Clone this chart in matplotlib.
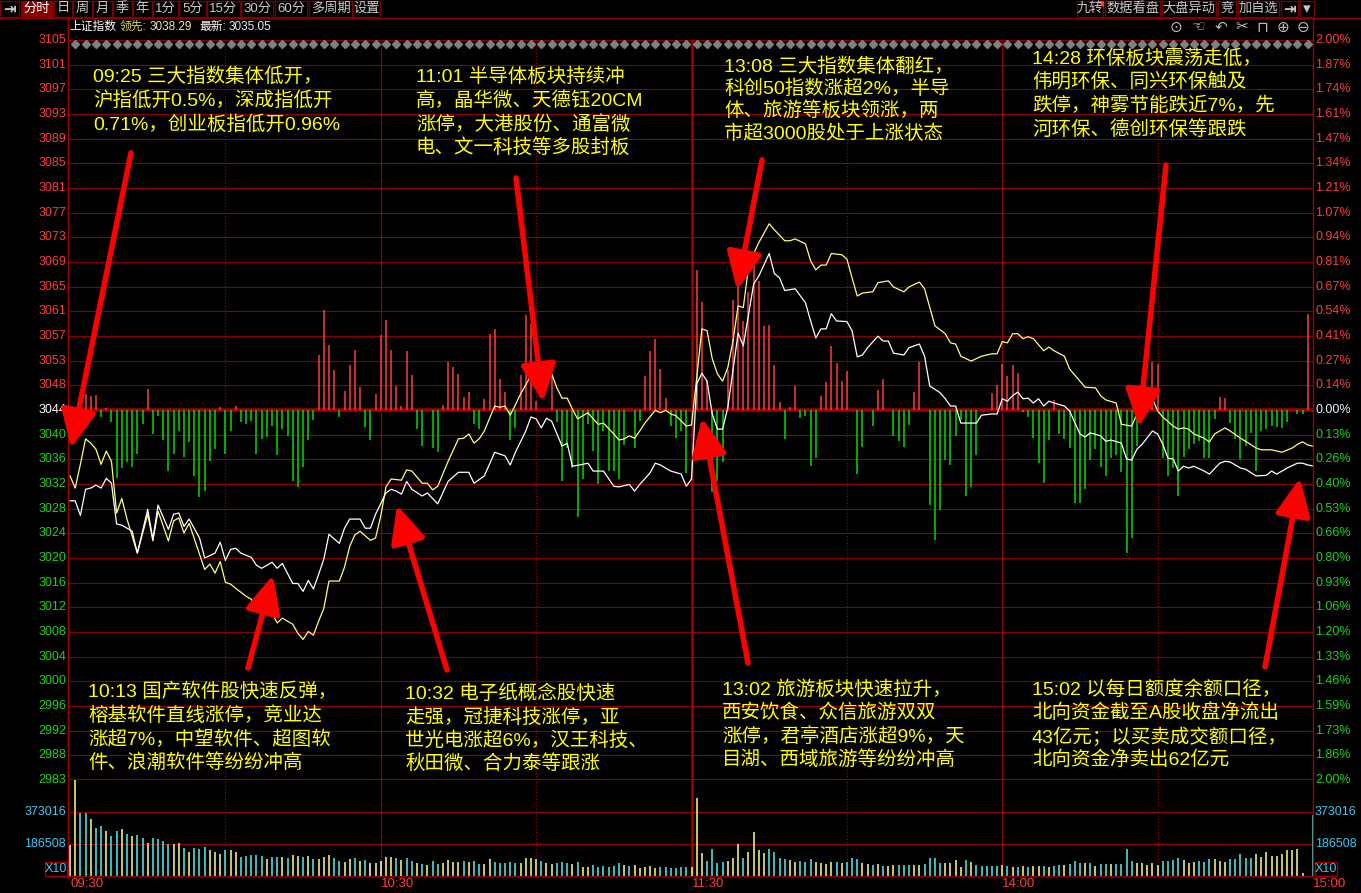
import numpy as np
import matplotlib
matplotlib.use("Agg")
import matplotlib.pyplot as plt
import matplotlib.transforms as mtransforms
from matplotlib.patches import FancyArrowPatch, Rectangle

plt.rcParams['font.family'] = ['Liberation Sans', 'Noto Sans CJK SC', 'DejaVu Sans']

W, H = 1361, 893

# ---- data (minute index 0..240: 09:30-11:30, 13:01-15:00) ----
PREV_CLOSE = 3044.25
LEAD_LAST = 3038.29
LAST = 3035.05

# 上证指数 (white)
white_pts = [
    (0, 3029.3), (1, 3029.3), (2, 3026.9), (3, 3031.2), (4, 3031.4), (5, 3031.9), (6, 3031.4), (7, 3033.0),
    (8, 3032.2), (9, 3025.5), (10, 3025.3), (12, 3024.3), (13, 3020.7), (15, 3027.9), (16, 3023.0), (17, 3028.6),
    (19, 3024.6), (20, 3027.1), (21, 3027.3), (22, 3025.1), (23, 3026.3), (25, 3023.2), (26, 3019.9), (28, 3020.7),
    (29, 3022.5), (30, 3019.5), (31, 3021.3), (32, 3021.5), (33, 3020.7), (35, 3020.0), (36, 3018.7), (37, 3018.2),
    (39, 3019.2), (40, 3018.2), (41, 3019.0), (43, 3015.7), (44, 3015.7), (45, 3014.4), (46, 3016.2), (47, 3014.8),
    (48, 3017.2), (49, 3019.7), (50, 3023.8), (52, 3022.3), (53, 3024.8), (54, 3026.3), (56, 3026.3), (57, 3024.8),
    (58, 3024.8), (59, 3027.1), (61, 3030.6), (62, 3031.2), (63, 3030.9), (64, 3030.4), (65, 3032.5), (66, 3031.2),
    (68, 3030.1), (69, 3030.6), (71, 3028.8), (73, 3032.5), (75, 3034.0), (77, 3034.0), (78, 3032.2), (80, 3033.4),
    (82, 3037.3), (84, 3036.7), (85, 3035.2), (86, 3037.3), (88, 3040.8), (89, 3043.1), (90, 3042.8), (91, 3041.3),
    (92, 3042.9), (93, 3042.4), (95, 3038.3), (96, 3038.8), (97, 3035.0), (99, 3035.3), (100, 3035.5), (101, 3034.2),
    (102, 3034.2), (103, 3034.2), (105, 3031.7), (106, 3031.6), (108, 3032.0), (109, 3030.9), (110, 3032.0),
    (112, 3033.9), (113, 3035.5), (114, 3035.2), (116, 3034.2), (118, 3033.7), (119, 3031.7), (120, 3032.9),
    (121, 3048.5), (122, 3050.3), (123, 3049.0), (124, 3043.6), (125, 3041.1), (126, 3041.1), (127, 3044.6),
    (128, 3050.7), (129, 3056.9), (130, 3054.8), (132, 3065.0), (133, 3066.3), (135, 3070.0), (136, 3066.7),
    (137, 3066.0), (138, 3063.9), (140, 3064.2), (142, 3061.9), (143, 3058.9), (144, 3056.1), (145, 3057.6),
    (146, 3057.6), (147, 3060.1), (148, 3058.9), (150, 3058.8), (151, 3057.3), (152, 3053.0), (153, 3053.3),
    (154, 3054.5), (156, 3056.4), (157, 3055.6), (158, 3055.6), (159, 3053.6), (161, 3053.3), (162, 3054.5),
    (164, 3055.1), (165, 3053.1), (166, 3048.2), (168, 3047.1), (169, 3046.1), (170, 3044.9), (171, 3044.9),
    (172, 3042.1), (175, 3042.1), (176, 3043.4), (178, 3043.6), (179, 3043.6), (180, 3046.1), (181, 3045.7),
    (182, 3046.6), (183, 3047.2), (184, 3046.1), (185, 3046.2), (186, 3045.4), (187, 3046.1), (188, 3044.9),
    (189, 3045.7), (190, 3045.4), (192, 3044.9), (193, 3044.1), (195, 3040.3), (196, 3039.8), (197, 3040.5),
    (199, 3040.0), (200, 3039.1), (201, 3039.3), (203, 3038.8), (204, 3036.2), (205, 3036.0), (206, 3037.8),
    (207, 3038.6), (209, 3040.8), (210, 3040.3), (211, 3038.6), (212, 3036.3), (213, 3036.2), (214, 3034.2),
    (215, 3035.0), (216, 3034.7), (217, 3035.0), (219, 3034.2), (220, 3033.7), (222, 3035.5), (223, 3035.8),
    (224, 3035.7), (226, 3034.7), (227, 3034.5), (229, 3033.4), (231, 3033.5), (232, 3034.2), (233, 3033.7),
    (235, 3034.7), (237, 3035.5), (238, 3035.5), (239, 3035.2), (240, LAST),
]

# 领先指标 (yellow)
yellow_pts = [
    (0, 3033.4), (1, 3031.4), (2, 3035.3), (3, 3039.5), (4, 3038.8), (5, 3037.8), (6, 3035.3), (7, 3037.5),
    (8, 3035.8), (9, 3027.3), (10, 3029.7), (11, 3026.3), (12, 3023.5), (13, 3020.7), (15, 3027.1), (16, 3022.7),
    (17, 3027.6), (19, 3022.7), (20, 3026.0), (21, 3026.5), (22, 3024.0), (23, 3025.6), (26, 3018.0), (27, 3018.9),
    (28, 3017.4), (29, 3019.3), (30, 3015.9), (31, 3015.6), (32, 3014.9), (34, 3013.6), (35, 3013.1), (36, 3011.0),
    (38, 3011.0), (39, 3010.8), (40, 3009.2), (41, 3010.0), (43, 3009.0), (44, 3007.5), (45, 3006.5), (46, 3007.8),
    (47, 3007.2), (48, 3009.5), (49, 3011.6), (50, 3016.1), (52, 3016.1), (53, 3018.4), (54, 3021.8), (55, 3023.7),
    (56, 3024.3), (58, 3022.8), (59, 3023.2), (60, 3026.8), (61, 3031.6), (62, 3032.9), (64, 3032.7), (65, 3034.4),
    (66, 3034.2), (68, 3032.2), (69, 3032.2), (70, 3031.1), (71, 3031.7), (73, 3035.8), (75, 3039.5), (76, 3039.6),
    (77, 3040.3), (78, 3038.8), (79, 3039.5), (80, 3040.8), (82, 3044.9), (83, 3044.7), (84, 3044.9), (85, 3043.4),
    (86, 3045.1), (87, 3046.9), (89, 3049.9), (90, 3050.3), (91, 3049.7), (92, 3049.5), (93, 3050.2), (94, 3047.9),
    (95, 3046.2), (96, 3046.2), (97, 3044.4), (98, 3042.8), (100, 3043.8), (101, 3042.8), (102, 3041.9),
    (103, 3042.1), (105, 3040.3), (106, 3039.3), (107, 3039.5), (108, 3040.0), (109, 3039.6), (110, 3040.8),
    (111, 3042.1), (113, 3044.2), (114, 3043.8), (115, 3044.2), (116, 3043.6), (117, 3043.3), (119, 3041.6),
    (120, 3041.8), (121, 3049.5), (122, 3057.6), (123, 3057.3), (124, 3052.7), (125, 3050.2), (126, 3049.0),
    (127, 3051.2), (128, 3055.6), (129, 3061.4), (130, 3061.1), (131, 3067.7), (132, 3070.0), (133, 3071.8),
    (135, 3074.9), (136, 3073.9), (138, 3072.1), (139, 3072.1), (140, 3072.4), (142, 3071.6), (143, 3068.8),
    (144, 3067.3), (145, 3068.1), (146, 3068.1), (147, 3070.0), (149, 3069.8), (150, 3069.1), (151, 3066.0),
    (152, 3063.0), (153, 3063.5), (155, 3063.7), (156, 3065.2), (158, 3065.5), (159, 3064.5), (161, 3063.7),
    (162, 3064.5), (164, 3065.3), (165, 3064.2), (167, 3058.1), (169, 3056.8), (170, 3055.3), (171, 3055.1),
    (172, 3053.1), (174, 3052.3), (176, 3053.1), (178, 3053.5), (179, 3053.5), (180, 3055.5), (181, 3055.3),
    (182, 3056.8), (183, 3056.8), (184, 3056.0), (185, 3056.3), (186, 3056.0), (188, 3054.0), (189, 3054.6),
    (190, 3054.0), (192, 3053.1), (193, 3051.0), (195, 3049.0), (196, 3048.0), (198, 3047.9), (199, 3046.6),
    (200, 3045.9), (202, 3045.4), (203, 3041.9), (205, 3041.6), (206, 3043.6), (207, 3044.6), (209, 3046.1),
    (210, 3044.1), (211, 3043.1), (213, 3041.6), (214, 3041.1), (215, 3041.3), (216, 3041.1), (217, 3040.3),
    (219, 3039.6), (220, 3039.0), (221, 3040.3), (223, 3041.3), (224, 3040.8), (226, 3039.6), (227, 3039.1),
    (229, 3038.0), (230, 3037.7), (232, 3037.7), (234, 3037.3), (236, 3038.0), (237, 3038.6), (238, 3039.0),
    (239, 3038.5), (240, LEAD_LAST),
]

# 红绿柱 (buy/sell strength, arbitrary units)
force_pts = [
    (2, 11), (3, 16), (4, 14), (5, 15), (6, -7), (7, 2), (8, -12), (9, -68), (10, -58), (11, -52), (12, -57),
    (13, -44), (14, -14), (15, 21), (16, -24), (17, -6), (18, -30), (19, -61), (20, -44), (21, -21), (22, -47),
    (23, -32), (24, -66), (25, -87), (26, -81), (27, -51), (28, -39), (29, 3), (30, -44), (31, -21), (32, 4),
    (33, -12), (34, -14), (35, -11), (36, -44), (37, -29), (38, -27), (39, -16), (40, -45), (41, -19), (42, -26),
    (43, -71), (44, -77), (45, -57), (46, -30), (47, -10), (48, 55), (49, 100), (50, 65), (51, 40), (52, -7),
    (53, 19), (54, 45), (55, 60), (56, 23), (57, -17), (58, -30), (59, 16), (60, 75), (61, 90), (62, 60),
    (63, 24), (64, 4), (65, 59), (66, 35), (67, -19), (68, -36), (70, -38), (71, -42), (72, 5), (73, 48),
    (74, 43), (75, 36), (76, 13), (77, 18), (78, -14), (79, -19), (80, 11), (81, 76), (82, 81), (83, 31),
    (84, 18), (85, -30), (86, -18), (87, 35), (88, 95), (89, 86), (90, 9), (93, 35), (94, -12), (95, -71),
    (96, -38), (97, -58), (98, -107), (99, -69), (100, -14), (101, -41), (102, -74), (103, -21), (104, -61),
    (105, -61), (106, -69), (107, -35), (109, -38), (110, -11), (111, 34), (112, 59), (113, 71), (114, 41),
    (115, 12), (116, -16), (117, -28), (118, -21), (119, -63), (121, 140), (122, 108), (123, 29), (124, -82),
    (125, -71), (126, -52), (127, 40), (128, 110), (129, 133), (130, 89), (131, 118), (132, 149), (133, 129),
    (134, 84), (135, 85), (136, 45), (137, 8), (138, -29), (139, 3), (140, 24), (141, -8), (142, -6), (143, -56),
    (144, -48), (145, 14), (146, 28), (147, 64), (148, 47), (149, 29), (150, 39), (152, -64), (153, -37),
    (155, -16), (156, 20), (157, 31), (159, -26), (160, -31), (161, -37), (162, -15), (163, 18), (164, 48),
    (166, -95), (167, -130), (168, -100), (169, -50), (170, -55), (171, -26), (172, -10), (173, -86), (174, -77),
    (175, -45), (178, 17), (179, 25), (180, 46), (181, 34), (182, 45), (183, 37), (184, -2), (185, -7), (186, -28),
    (187, -53), (188, -73), (189, -30), (190, 10), (191, -24), (192, -29), (193, -38), (194, -93), (195, -93),
    (196, -79), (197, -50), (198, -39), (199, -57), (200, -66), (201, -48), (202, -45), (203, -62), (204, -143),
    (205, -128), (206, -36), (207, 13), (209, 48), (210, 46), (211, -48), (212, -66), (213, -58), (214, -86),
    (215, -47), (216, -39), (217, -34), (218, -31), (219, -48), (220, -48), (221, -9), (222, 13), (223, 12),
    (224, -13), (225, -29), (226, -49), (227, -36), (228, -23), (229, -61), (230, -21), (231, -19), (232, -16),
    (233, -17), (234, -18), (235, -12), (237, -4), (238, -4), (239, 96),
]

# 成交量 (万手)
vol_am = [
    18.1, 56.0, 36.7, 36.7, 33.2, 28.0, 29.1, 26.2, 23.3, 26.2,
    27.4, 24.5, 23.3, 23.9, 22.2, 19.2, 22.2, 21.6, 20.4, 18.7,
    18.7, 19.2, 16.3, 14.0, 16.3, 15.7, 16.9, 15.2, 14.0, 12.8,
    15.2, 15.2, 14.0, 11.1, 11.7, 12.2, 12.2, 11.7, 9.9, 11.1,
    11.1, 11.1, 10.5, 12.2, 11.7, 11.1, 11.7, 9.9, 9.9, 11.1,
    12.2, 10.5, 8.7, 8.2, 9.9, 10.5, 8.7, 9.3, 7.6, 7.6,
    8.7, 11.1, 11.1, 10.5, 9.3, 10.5, 8.7, 7.6, 7.0, 6.4,
    8.7, 7.0, 7.6, 9.3, 8.2, 8.2, 8.7, 8.2, 8.7, 7.0,
    7.0, 9.9, 8.2, 7.6, 7.6, 8.2, 7.6, 7.6, 10.5, 10.5,
    9.9, 8.7, 7.6, 7.0, 7.6, 8.2, 7.6, 7.0, 8.2, 5.2,
    5.2, 6.4, 5.2, 5.8, 5.2, 5.8, 7.6, 6.4, 5.8, 6.4,
    4.7, 5.2, 5.8, 4.7, 5.2, 5.2, 4.7, 4.7, 5.2, 5.2,
    5.2,
]
vol_pm = [
    45.5, 13.4, 8.7, 15.7, 7.6, 8.2, 8.7, 10.5, 18.7, 10.5,
    14.0, 25.6, 15.2, 13.4, 15.7, 14.0, 10.5, 9.9, 9.3, 8.2,
    8.7, 8.2, 9.9, 8.2, 7.6, 7.0, 8.2, 8.2, 7.6, 8.2,
    10.5, 9.9, 7.6, 7.0, 6.4, 7.0, 5.8, 5.8, 6.4, 6.4,
    6.4, 6.4, 6.4, 6.4, 7.0, 10.5, 10.5, 7.6, 7.6, 7.6,
    9.3, 5.2, 9.3, 8.2, 6.4, 5.8, 5.8, 5.8, 5.8, 6.4,
    5.8, 5.2, 5.2, 5.8, 5.2, 5.8, 5.8, 5.8, 5.2, 5.8,
    6.4, 6.4, 7.0, 8.7, 7.6, 7.6, 7.6, 5.8, 7.0, 7.0,
    7.0, 7.0, 7.0, 15.7, 8.7, 7.6, 7.6, 6.4, 7.6, 6.4,
    8.7, 8.7, 9.3, 10.5, 9.3, 7.6, 8.2, 8.7, 8.2, 9.9,
    9.9, 8.7, 8.2, 9.9, 9.9, 12.8, 10.5, 10.5, 12.8, 11.1,
    14.0, 11.7, 11.7, 12.8, 15.2, 15.2, 15.7, 1.7, 0.0, 35.6,
]
# y = up minute, c = down minute, w = flat
vol_dir = ("wyccyccycc" "ycyccycccc" "yycycccyyy" "cyycccccyc" "cycyycycyy" "yccyycycwy"
           "wyycyccycy" "ccyyyycycc" "yycccccyyy" "ycyycccycy" "yccccccycy" "yyyycccccc" "y"
           "yyccccyyyc" "yyyyccccyy" "cccyyyycyc" "ccyycycyyc" "ccyyccccyy" "yycycccccy"
           "cycycyycyc" "cycccycycc" "yccccyyyyy" "ccccyyyccc" "yyycccccyy" "yyyyyyyyyc")

time_ticks = [0, 60, 120, 180, 240]
time_labels = ['09:30', '10:30', '11:30', '14:00', '15:00']
left_up = ['3048', '3053', '3057', '3061', '3065', '3069', '3073', '3077', '3081', '3085',
           '3089', '3093', '3097', '3101', '3105']
left_down = ['3040', '3036', '3032', '3028', '3024', '3020', '3016', '3012', '3008', '3004',
             '3000', '2996', '2992', '2988', '2983']
right_up = ['0.14%', '0.27%', '0.41%', '0.54%', '0.67%', '0.81%', '0.94%', '1.07%', '1.21%', '1.34%',
            '1.47%', '1.61%', '1.74%', '1.87%', '2.00%']
right_down = ['0.13%', '0.26%', '0.40%', '0.53%', '0.66%', '0.80%', '0.93%', '1.06%', '1.20%', '1.33%',
              '1.46%', '1.59%', '1.73%', '1.86%', '2.00%']
vol_ticks = [18.6508, 37.3016]
vol_labels = ['186508', '373016']

notes = [
    (93, [77, 101, 125], ['09:25 三大指数集体低开，', '沪指低开0.5%，深成指低开', '0.71%，创业板指低开0.96%']),
    (416, [77, 101, 125, 148], ['11:01 半导体板块持续冲', '高，晶华微、天德钰20CM', '涨停，大港股份、通富微',
                                '电、文一科技等多股封板']),
    (724, [67, 89, 111, 134], ['13:08 三大指数集体翻红，', '科创50指数涨超2%，半导', '体、旅游等板块领涨，两',
                               '市超3000股处于上涨状态']),
    (1032, [58, 82, 106, 130], ['14:28 环保板块震荡走低，', '伟明环保、同兴环保触及', '跌停，神雾节能跌近7%，先',
                                '河环保、德创环保等跟跌']),
    (88, [692, 716, 740, 763], ['10:13 国产软件股快速反弹，', '榕基软件直线涨停，竞业达', '涨超7%，中望软件、超图软',
                                '件、浪潮软件等纷纷冲高']),
    (405, [694, 718, 741, 764], ['10:32 电子纸概念股快速', '走强，冠捷科技涨停，亚', '世光电涨超6%，汉王科技、',
                                 '秋田微、合力泰等跟涨']),
    (722, [690, 713, 737, 760], ['13:02 旅游板块快速拉升，', '西安饮食、众信旅游双双', '涨停，君亭酒店涨超9%，天',
                                 '目湖、西域旅游等纷纷冲高']),
    (1032, [690, 713, 737, 760], ['15:02 以每日额度余额口径，', '北向资金截至A股收盘净流出', '43亿元；以买卖成交额口径，',
                                  '北向资金净卖出62亿元']),
]
arrows = [((131, 153), (71, 448)), ((516, 178), (543, 402)), ((762, 160), (737, 290)),
          ((1166, 165), (1139, 427)), ((248, 668), (273, 575)), ((447, 670), (397, 505)),
          ((748, 663), (702, 418)), ((1265, 667), (1300, 478))]

# ---- style ----
BG = '#000000'
GRID = '#8c0000'
RED = '#ff3c3c'
GREEN = '#1ed21e'
CYAN = '#3cc8f0'
FORCE_SCALE = 0.1648


def fx(x):
    return x / W


def fy(y):
    return 1 - y / H


fig = plt.figure(figsize=(W / 100, H / 100), dpi=100, facecolor=BG)
L, R = 68, 1313
ax = fig.add_axes([fx(L), fy(780), fx(R) - fx(L), (780 - 40) / H], facecolor=BG)
axv = fig.add_axes([fx(L), fy(876), fx(R) - fx(L), (876 - 780) / H], facecolor=BG)
for a in (ax, axv):
    a.set_xlim(-0.39, 240.0)
    a.set_xticks([])
    a.set_yticks([])
    for s in a.spines.values():
        s.set_visible(False)

lo, hi = PREV_CLOSE * 0.98, PREV_CLOSE * 1.02
ax.set_ylim(lo, hi)
vmax = 3 * vol_ticks[0]
axv.set_ylim(0, vmax)

# horizontal grid
levels = PREV_CLOSE * (1 + np.arange(-15, 16) * 0.02 / 15)
for k, lv in zip(range(-15, 16), levels):
    lw = 2.6 if k == 0 else (1.6 if k == -15 else 0.8)
    ax.axhline(lv, color='#a00000' if k == 0 else GRID, lw=lw, zorder=1)
for v in vol_ticks:
    axv.axhline(v, color=GRID, lw=0.8)

# vertical session lines
for a in (ax, axv):
    for t in (60, 180):
        a.axvline(t, color=GRID, lw=0.9, zorder=1)
    a.axvline(120, color='#a00000', lw=1.8, zorder=1)
    for t in (30, 90, 150, 210):
        a.axvline(t, color='#b00000', lw=0.8, ls=(0, (1, 2)), zorder=1)

# strength bars
ft = [p[0] for p in force_pts]
fv = [p[1] for p in force_pts]
ax.vlines(ft, PREV_CLOSE, [PREV_CLOSE + v * FORCE_SCALE for v in fv],
          colors=[RED if v > 0 else '#00dc00' for v in fv], lw=1.1, zorder=2)

# price lines
ax.plot([p[0] for p in yellow_pts], [p[1] for p in yellow_pts], color='#ffff78', lw=0.9, zorder=3)
ax.plot([p[0] for p in white_pts], [p[1] for p in white_pts], color='#ffffff', lw=0.9, zorder=4)

# volume
vol = vol_am + vol_pm
vcol = {'y': '#ffff80', 'c': '#50f0f0', 'w': '#ffffff'}
axv.vlines(np.arange(len(vol)), 0, vol, colors=[vcol[c] for c in vol_dir[:len(vol)]], lw=1.1)

# top diamonds row
tr_top = mtransforms.blended_transform_factory(ax.transData, fig.transFigure)
dx = np.arange(1.0, 240, 2.0)
ax.plot(dx, np.full(len(dx), fy(44)), ls='none', marker='D', ms=4.2, color='#808080',
        transform=tr_top, clip_on=False)

# y labels
trL = mtransforms.blended_transform_factory(ax.transAxes, ax.transData)
lx, rx = -2 / (R - L), 1 + 2 / (R - L)
for lab, lv in zip(left_up, levels[16:]):
    ax.text(lx, lv, lab, color=RED, fontsize=9, ha='right', va='center', transform=trL)
for lab, lv in zip(left_down, levels[:15][::-1]):
    ax.text(lx, lv, lab, color=GREEN, fontsize=9, ha='right', va='center', transform=trL)
ax.text(lx, PREV_CLOSE, '3044', color='white', fontsize=9, ha='right', va='center', transform=trL)
for lab, lv in zip(right_up, levels[16:]):
    ax.text(rx, lv, lab, color=RED, fontsize=9, ha='left', va='center', transform=trL)
for lab, lv in zip(right_down, levels[:15][::-1]):
    ax.text(rx, lv, lab, color=GREEN, fontsize=9, ha='left', va='center', transform=trL)
ax.text(rx, PREV_CLOSE, '0.00%', color='#e8f4ff', fontsize=9, ha='left', va='center', transform=trL)

trV = mtransforms.blended_transform_factory(axv.transAxes, axv.transData)
for lab, v in zip(vol_labels, vol_ticks):
    axv.text(lx, v, lab, color=CYAN, fontsize=9, ha='right', va='center', transform=trV)
    axv.text(rx, v, lab, color=CYAN, fontsize=9, ha='left', va='center', transform=trV)

# time labels
trX = mtransforms.blended_transform_factory(axv.transData, fig.transFigure)
for t, lab in zip(time_ticks, time_labels):
    axv.text(t, fy(884), lab, color=RED, fontsize=9.5, ha='left', va='center', transform=trX, clip_on=False)

# X10 boxes
for x0 in (45, 1315):
    fig.add_artist(Rectangle((fx(x0), fy(876)), 22 / W, 14 / H, transform=fig.transFigure,
                             facecolor=BG, edgecolor='#a00000', lw=1))
    fig.text(fx(x0 + 11), fy(869), 'X10', color=CYAN, fontsize=9, ha='center', va='center')


# frame lines
def hline(y, x0, x1, color=GRID, lw=0.9):
    fig.add_artist(plt.Line2D([fx(x0), fx(x1)], [fy(y), fy(y)], transform=fig.transFigure, color=color, lw=lw))


def vline(x, y0, y1, color=GRID, lw=0.9):
    fig.add_artist(plt.Line2D([fx(x), fx(x)], [fy(y0), fy(y1)], transform=fig.transFigure, color=color, lw=lw))


hline(18, 0, W)
hline(876, L, R)
vline(L, 18, 878, '#a00000', 1.0)
vline(R, 18, 878, '#a00000', 1.0)

# toolbar
tool_left = [('⇥', 0, 19), ('分时', 21, 53), ('日', 54, 72), ('周', 73, 92), ('月', 93, 112), ('季', 113, 132),
             ('年', 133, 152), ('1分', 153, 178), ('5分', 179, 206), ('15分', 207, 240), ('30分', 241, 273),
             ('60分', 275, 307), ('多周期', 309, 352), ('设置', 353, 380)]
tool_right = [('九转', 1077, 1103), ('数据看盘', 1105, 1160), ('大盘异动', 1162, 1216), ('竞', 1218, 1236),
              ('加自选', 1238, 1279), ('⇥', 1281, 1298), ('▾', 1300, 1314)]
for lab, x0, x1 in tool_left + tool_right:
    active = lab == '分时'
    fig.add_artist(Rectangle((fx(x0), fy(17)), (x1 - x0) / W, 16 / H, transform=fig.transFigure,
                             facecolor='#8c0000' if active else BG, edgecolor='#7a0000', lw=0.9))
    icon = lab in ('⇥', '▾')
    fig.text(fx((x0 + x1) / 2), fy(8.5), lab, color='white' if active else '#c8c8c8',
             fontsize=11 if icon else 9.5, ha='center', va='center',
             family=['DejaVu Sans'] if icon else None, fontweight='bold' if icon else 'normal')
fig.add_artist(plt.Polygon([[fx(1098), fy(1)], [fx(1103), fy(1)], [fx(1103), fy(6)]],
                           transform=fig.transFigure, color='#ff3030'))

# info line
fig.text(fx(69), fy(27), '上证指数', color='white', fontsize=8.5, va='center')
fig.text(fx(120), fy(27), '领先:', color='#d8d860', fontsize=8.5, va='center')
fig.text(fx(150), fy(27), f'{LEAD_LAST:.2f}', color='#e8e8a0', fontsize=8.5, va='center')
fig.text(fx(199), fy(27), '最新:', color='white', fontsize=8.5, va='center')
fig.text(fx(229), fy(27), f'{LAST:.2f}', color='#e0f0ff', fontsize=8.5, va='center')
for g, x in zip(['⊙', '☜', '↶', '✂', '⊓', '⊕', '⊖'], [1176, 1198, 1221, 1242, 1262, 1283, 1303]):
    fig.text(fx(x), fy(27), g, color='#bcbcbc', fontsize=11, ha='center', va='center', family=['DejaVu Sans'])

# annotations
for x, ys, lines in notes:
    for y, s in zip(ys, lines):
        fig.text(fx(x), fy(y), s, color='#ffff00', fontsize=14, ha='left', va='center', zorder=6)

for (x0, y0), (x1, y1) in arrows:
    fig.add_artist(FancyArrowPatch((fx(x0), fy(y0)), (fx(x1), fy(y1)), transform=fig.transFigure,
                                   arrowstyle='-|>,head_length=0.6,head_width=0.28', mutation_scale=38,
                                   lw=4.0, color='#ff0000', shrinkA=0, shrinkB=0, zorder=7))

fig.savefig('out.png', dpi=100, facecolor=BG)
